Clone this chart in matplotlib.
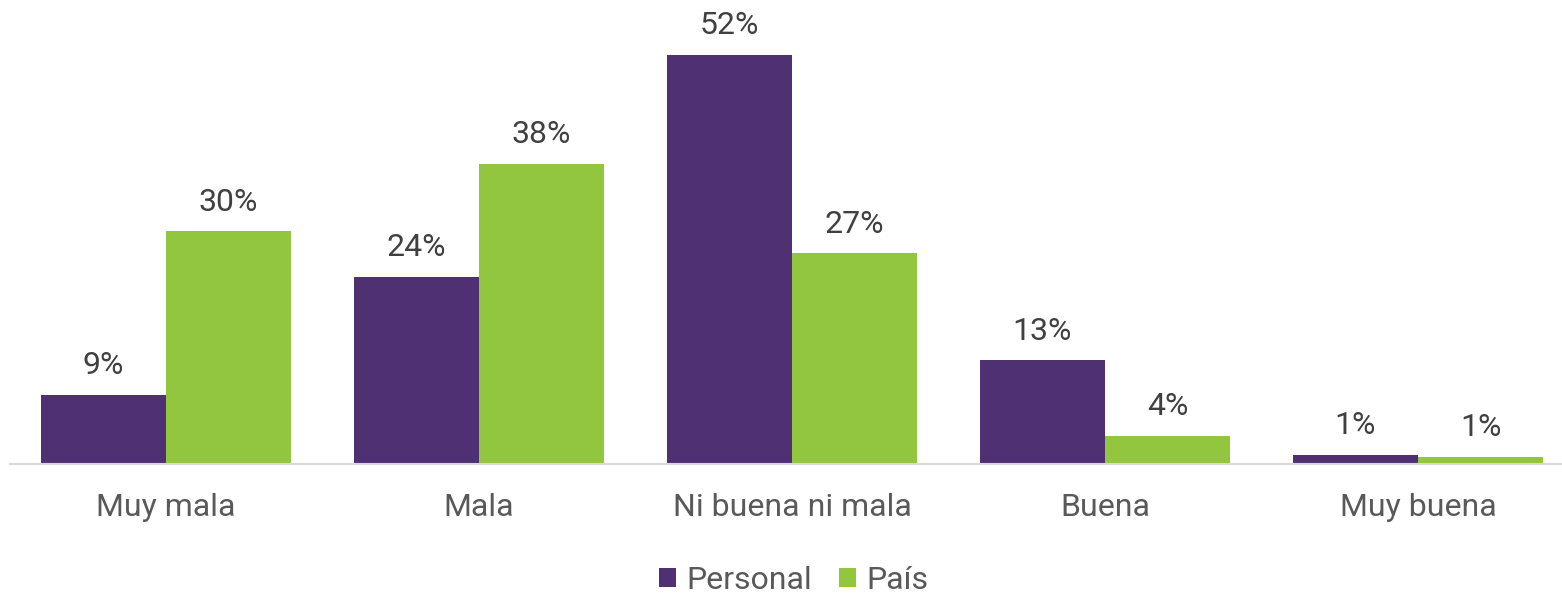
import numpy as np
import matplotlib.pyplot as plt

plt.rcParams["font.family"] = ["Roboto", "DejaVu Sans"]

# Data
categories = ["Muy mala", "Mala", "Ni buena ni mala", "Buena", "Muy buena"]
personal = [8.8, 23.8, 52.0, 13.2, 1.2]
pais = [29.6, 38.2, 26.8, 3.6, 0.9]
series_names = ["Personal", "País"]
colors = ["#4F3173", "#92C63F"]

fig = plt.figure(figsize=(15.62, 5.96), dpi=100)
px_per_unit = 7.865
ymax = 58
ax = fig.add_axes([9.5 / 1562, 1 - 464 / 596, 1565 / 1562, ymax * px_per_unit / 596])

x = np.arange(len(categories))
w = 0.4
b1 = ax.bar(x - w / 2, personal, w, color=colors[0], label=series_names[0])
b2 = ax.bar(x + w / 2, pais, w, color=colors[1], label=series_names[1])

for bars in (b1, b2):
    for bar in bars:
        h = bar.get_height()
        ax.annotate(f"{h:.0f}%", (bar.get_x() + bar.get_width() / 2, h),
                    xytext=(0, 10.5), textcoords="offset points",
                    ha="center", va="bottom", fontsize=23, color="#404040")

ax.set_xlim(-0.5, 4.5)
ax.set_ylim(0, ymax)
ax.set_xticks(x)
ax.set_xticklabels(categories, fontsize=23, color="#595959")
ax.tick_params(axis="x", length=0, pad=21)
ax.set_yticks([])
for s in ["top", "right", "left"]:
    ax.spines[s].set_visible(False)
ax.spines["bottom"].set_color("#D9D9D9")
ax.spines["bottom"].set_linewidth(1.5)

leg = fig.legend(handles=[b1, b2], loc="lower center", ncol=2, frameon=False,
                 fontsize=23, handlelength=0.55, handleheight=0.55,
                 handletextpad=0.3, columnspacing=0.85,
                 borderpad=0.0, borderaxespad=0.0,
                 bbox_to_anchor=(0.508, 0.002))
for t in leg.get_texts():
    t.set_color("#595959")

plt.savefig("out.png")
